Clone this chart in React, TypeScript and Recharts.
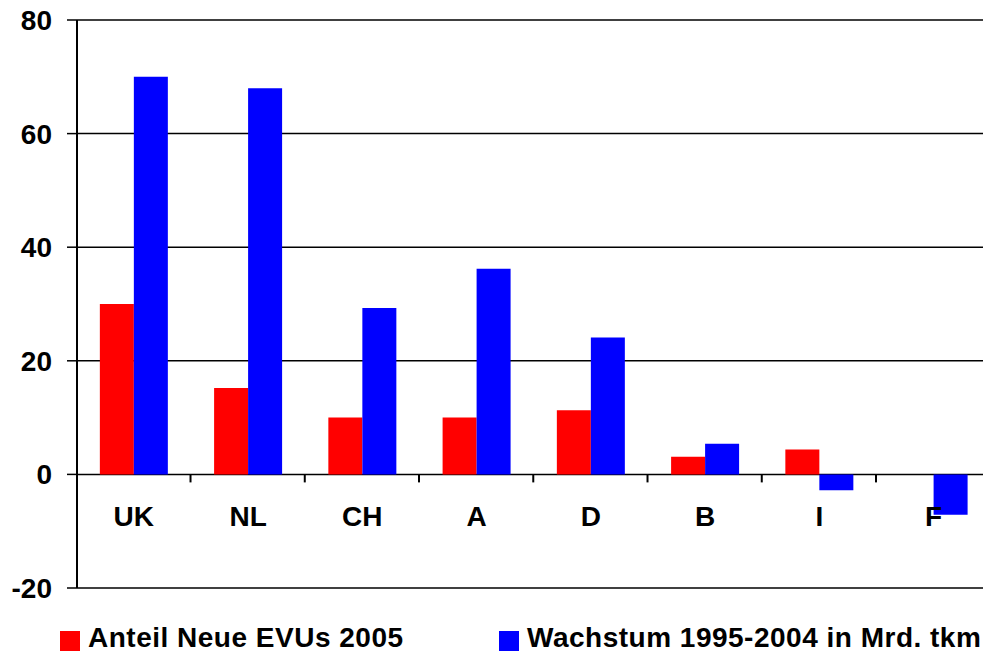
import { Bar, BarChart, CartesianGrid, LabelList, XAxis, YAxis } from 'recharts'

const countries = ['UK', 'NL', 'CH', 'A', 'D', 'B', 'I', 'F']
const anteilNeueEVUs = [30, 15.2, 10, 10, 11.3, 3.1, 4.4, 0]
const wachstum = [70, 68, 29.3, 36.2, 24.1, 5.4, -2.8, -7.1]
const yTicks = [-20, 0, 20, 40, 60, 80]
const seriesNames = ['Anteil Neue EVUs 2005', 'Wachstum 1995-2004 in Mrd. tkm']
const seriesColors = ['#ff0000', '#0000ff']

const data = countries.map((name, i) => ({
  name,
  anteil: anteilNeueEVUs[i],
  wachstum: wachstum[i],
}))

const FONT = '"Liberation Sans", Arial, sans-serif'
const GAP = 0.2

// Länderbeschriftung unter der Nulllinie + Teilstrich an der Kategoriegrenze
function CategoryLabel(props: any) {
  const { x, y, width, height, value } = props
  const zeroY = Number(y) + Number(height)
  const center = Number(x)
  const band = Number(width) / ((1 - 2 * GAP) / 2)
  const edge = center + band / 2
  return (
    <g>
      <line x1={edge} x2={edge} y1={zeroY} y2={zeroY + 8} stroke="#000" strokeWidth={2} />
      <text
        x={center}
        y={zeroY + 52}
        textAnchor="middle"
        fontFamily={FONT}
        fontSize={28}
        fontWeight="bold"
        fill="#000"
      >
        {value}
      </text>
    </g>
  )
}

export default function App() {
  return (
    <div style={{ position: 'absolute', left: 0, top: 0, width: 983, height: 652, overflow: 'hidden', background: '#fff' }}>
      <BarChart
        width={1000}
        height={600}
        data={data}
        margin={{ top: 20, right: 9, bottom: 12, left: 0 }}
        barCategoryGap={`${GAP * 100}%`}
        barGap={0}
      >
        <CartesianGrid vertical={false} stroke="#000" strokeWidth={1.5} />
        <XAxis dataKey="name" hide />
        <YAxis
          width={77}
          domain={[-20, 80]}
          ticks={yTicks}
          interval={0}
          axisLine={{ stroke: '#000', strokeWidth: 2 }}
          tickLine={{ stroke: '#000', strokeWidth: 1.5 }}
          tickSize={10}
          tickMargin={15}
          tick={{ fill: '#000', fontSize: 28, fontWeight: 'bold', fontFamily: FONT }}
        />
        <Bar dataKey="anteil" fill={seriesColors[0]} isAnimationActive={false} />
        <Bar dataKey="wachstum" fill={seriesColors[1]} isAnimationActive={false}>
          <LabelList dataKey="name" content={<CategoryLabel />} />
        </Bar>
      </BarChart>
      {[60, 499].map((left, i) => (
        <div
          key={seriesNames[i]}
          style={{
            position: 'absolute',
            left,
            top: 624,
            height: 28,
            lineHeight: '28px',
            whiteSpace: 'nowrap',
            fontFamily: FONT,
            fontSize: 28,
            fontWeight: 'bold',
            letterSpacing: '0.5px',
            color: '#000',
          }}
        >
          <span style={{ position: 'absolute', left: 0, top: 7, width: 20, height: 20, background: seriesColors[i] }} />
          <span style={{ position: 'absolute', left: 28, top: 0 }}>{seriesNames[i]}</span>
        </div>
      ))}
    </div>
  )
}
